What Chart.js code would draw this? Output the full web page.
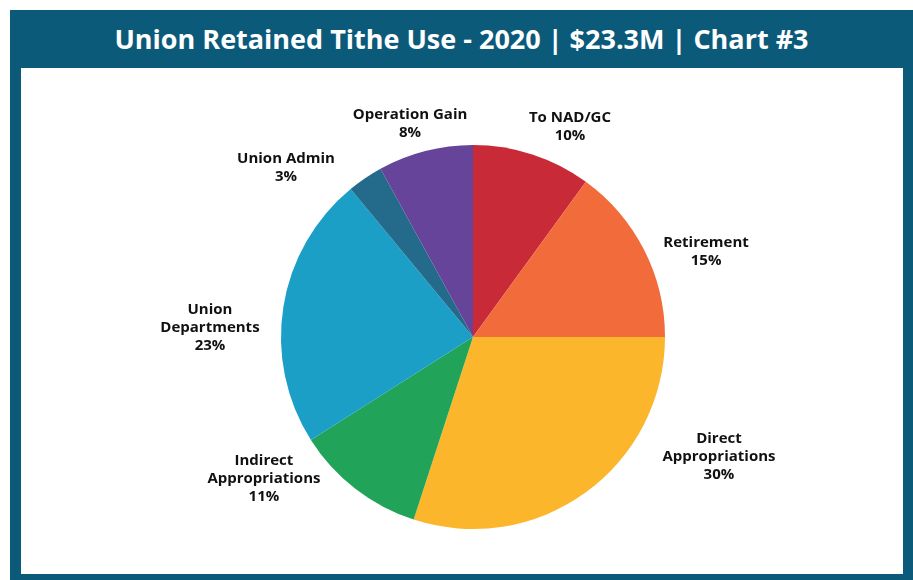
<!DOCTYPE html>
<html>
<head>
<meta charset="utf-8">
<script src="https://cdn.jsdelivr.net/npm/chart.js@4.4.1/dist/chart.umd.min.js"></script>
<style>
  html, body { margin: 0; padding: 0; background: #fff; }
  body { width: 913px; height: 580px; position: relative; overflow: hidden; }
  .moldura { position: absolute; left: 10px; top: 10px; width: 903px; height: 570px; background: #0c5a7a; }
  .titulo {
    font: 700 27px "Open Sans", sans-serif;
    height: 58px; line-height: 58px; text-align: center; color: #fff;
  }
  .area { position: absolute; left: 11px; top: 58px; width: 882px; height: 506px; background: #fff; }
</style>
</head>
<body>
<div class="moldura">
  <div class="titulo">Union Retained Tithe Use - 2020 | $23.3M | Chart #3</div>
  <div class="area"><canvas id="pizza" width="882" height="506"></canvas></div>
</div>
<script>
  // Dados (fatias no sentido horário a partir do topo)
  const categorias = [
    ['To NAD/GC'],
    ['Retirement'],
    ['Direct', 'Appropriations'],
    ['Indirect', 'Appropriations'],
    ['Union', 'Departments'],
    ['Union Admin'],
    ['Operation Gain'],
  ];
  const percentuais = [10, 15, 30, 11, 23, 3, 8];
  const cores = ['#c92a37', '#f26c3b', '#fbb62b', '#22a35a', '#1b9fc6', '#246b8b', '#654499'];

  // posição do rótulo relativa ao centro da pizza, em múltiplos do raio
  const posRotulo = [
    [0.505, -1.096], [1.214, -0.443], [1.281, 0.625], [-1.089, 0.740],
    [-1.370, -0.047], [-0.974, -0.880], [-0.328, -1.112],
  ];

  const rotulosPlugin = {
    id: 'rotulos',
    afterDatasetsDraw(chart) {
      const { ctx } = chart;
      const arcos = chart.getDatasetMeta(0).data;
      ctx.save();
      ctx.fillStyle = '#111';
      ctx.font = '700 15px "Open Sans", sans-serif';
      ctx.textAlign = 'center';
      ctx.textBaseline = 'middle';
      arcos.forEach((arco, i) => {
        const r = arco.outerRadius;
        const linhas = [...categorias[i], percentuais[i] + '%'];
        const cx = arco.x + posRotulo[i][0] * r;
        const cy = arco.y + posRotulo[i][1] * r;
        const alt = 18;
        const y0 = cy - ((linhas.length - 1) * alt) / 2;
        linhas.forEach((t, k) => ctx.fillText(t, cx, y0 + k * alt));
      });
      ctx.restore();
    },
  };

  new Chart(document.getElementById('pizza'), {
    type: 'pie',
    data: {
      labels: categorias.map((c) => c.join(' ')),
      datasets: [{ data: percentuais, backgroundColor: cores, borderWidth: 0 }],
    },
    options: {
      responsive: false,
      animation: false,
      layout: { padding: { top: 77, bottom: 45, left: 260, right: 238 } },
      plugins: { legend: { display: false }, tooltip: { enabled: false } },
    },
    plugins: [rotulosPlugin],
  });
</script>
</body>
</html>
